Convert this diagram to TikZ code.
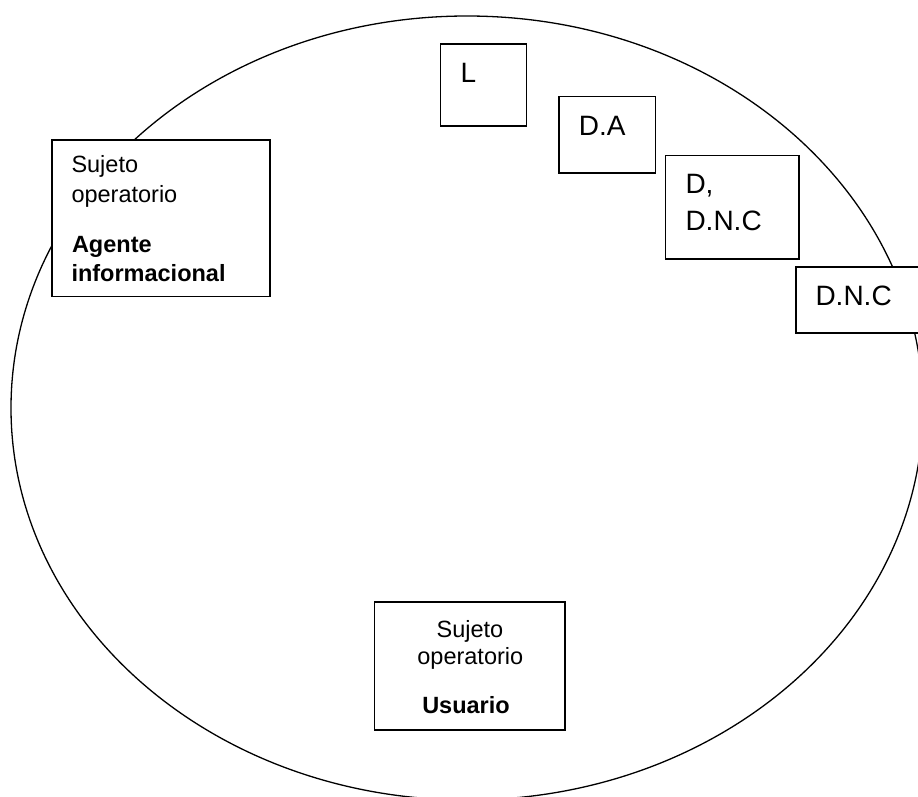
\documentclass[tikz,border=0pt]{standalone}
\usepackage{fontspec}
\setmainfont{Liberation Sans}
\begin{document}
\begin{tikzpicture}[x=1pt,y=-1pt,
  box/.style={draw=black,fill=white,line width=1.6pt,inner sep=0pt,outer sep=0pt,anchor=north west},
  small/.style={inner sep=0pt,font=\fontsize{23.5}{28}\selectfont},
  big/.style={inner sep=0pt,font=\fontsize{28}{34}\selectfont},
  ring/.style={draw=black,line width=1.3pt}]
\useasboundingbox (0,0) rectangle (918,797);
\clip (0,0) rectangle (918,797);
% big ellipse
\draw[ring] (467,408) ellipse [x radius=456pt, y radius=392pt];
% boxes
\node[box,minimum width=86pt,minimum height=82pt] (Lbox) at (440.3,44) {};
\node[box,minimum width=96.6pt,minimum height=76pt] (DAbox) at (558.7,96.7) {};
\node[box,minimum width=133.4pt,minimum height=103.7pt] (DDNCbox) at (665.3,155.3) {};
\node[box,minimum width=140pt,minimum height=65.7pt] (DNCbox) at (795.7,267) {};
\node[box,minimum width=218.5pt,minimum height=156.5pt] (AGbox) at (51.7,140) {};
\node[box,minimum width=190.7pt,minimum height=128.3pt] (USbox) at (374.3,601.7) {};
% texts
\node[big,anchor=base west] (Ltxt) at (460.3,82.7) {L};
\node[big,anchor=base west] (DAtxt) at (578.7,135.3) {D.A};
\node[big,anchor=base west] (DDtxt) at (685.3,193.3) {D,};
\node[big,anchor=base west] (DNtxt) at (685.3,230) {D.N.C};
\node[big,anchor=base west] (DNCtxt) at (815.3,305) {D.N.C};
\node[small,anchor=base west] (AG1) at (71.3,172.3) {Sujeto};
\node[small,anchor=base west] (AG2) at (71.3,202.7) {operatorio};
\node[small,anchor=base west] (AG3) at (71.8,252.3) {\bfseries Agente};
\node[small,anchor=base west] (AG4) at (71.3,281.7) {\bfseries informacional};
\node[small,anchor=base] (US1) at (470,637.7) {Sujeto};
\node[small,anchor=base] (US2) at (470.3,664) {operatorio};
\node[small,anchor=base] (US3) at (466,713.3) {\bfseries Usuario};
\end{tikzpicture}
\end{document}
